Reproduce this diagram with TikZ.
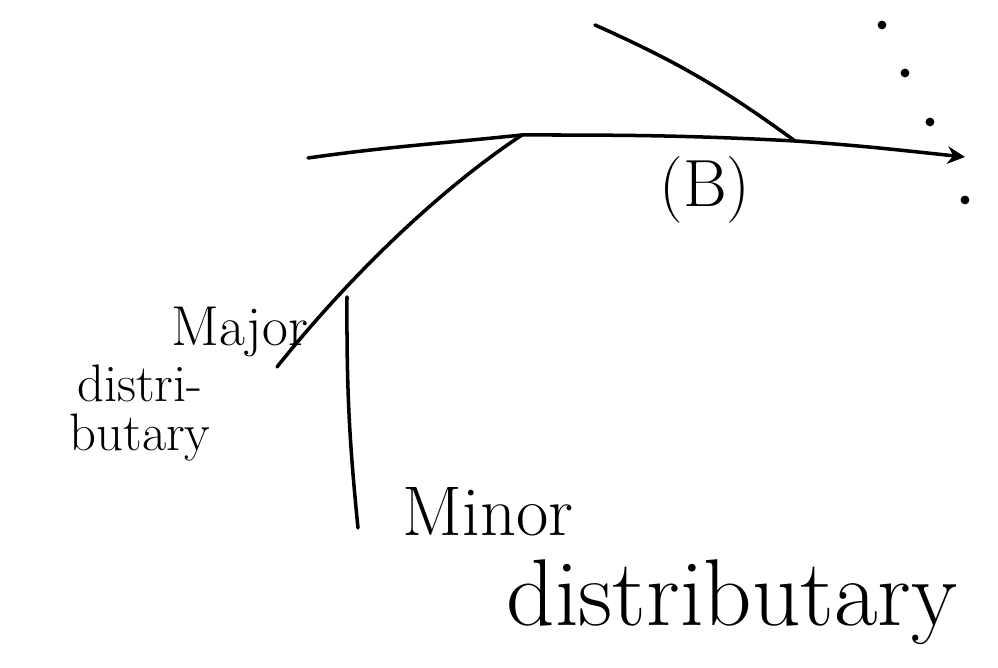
\documentclass[tikz,border=0pt]{standalone}
\usetikzlibrary{arrows.meta}
\begin{document}
\begin{tikzpicture}[
  river/.style={line width=1pt, draw=black, line cap=round},
  riverarr/.style={river, -{Stealth[length=5pt, width=5pt]}},
  lbl/.style={font=\fontsize{#1}{#1}\selectfont, align=center, inner sep=0pt},
  spot/.style={circle, fill=black, inner sep=0pt, minimum size=2.5pt}
]
\useasboundingbox (0,0) rectangle (9.98,6.68);

% Main channel
\coordinate (westend) at (3.08,5.10);
\coordinate (fork) at (5.22,5.33);
\coordinate (join) at (7.95,5.27);
\coordinate (eastend) at (9.65,5.11);
\draw[riverarr] (westend) to[out=8,in=186] (fork) to[out=0,in=177] (join)
  to[out=-4,in=174] (eastend);

% Tributary from the top
\coordinate (upstart) at (5.95,6.43);
\draw[river] (upstart) to[bend left=6] (join);

% Major distributary
\coordinate (majend) at (2.77,3.01);
\draw[river] (fork) .. controls (4.30,4.72) and (3.40,3.80) .. (majend);

% Minor distributary
\coordinate (mintop) at (3.47,3.71);
\coordinate (minbot) at (3.58,1.40);
\draw[river] (mintop) to[bend right=3] (minbot);

% Dots
\node[spot] (d1) at (8.82,6.43) {};
\node[spot] (d2) at (9.05,5.95) {};
\node[spot] (d3) at (9.30,5.46) {};
\node[spot] (d4) at (9.65,4.68) {};

% Labels
\node[lbl=19] (blbl) at (7.05,4.78) {(B)};
\node[lbl=16] (majlbl) at (2.40,3.36) {Major};
\node[lbl=15] (majlbl2) at (1.40,2.55) {distri-\\[-1pt]butary};
\node[lbl=20] (minlbl) at (4.88,1.56) {Minor};
\node[lbl=27] (minlbl2) at (7.32,0.66) {distributary};
\end{tikzpicture}
\end{document}
